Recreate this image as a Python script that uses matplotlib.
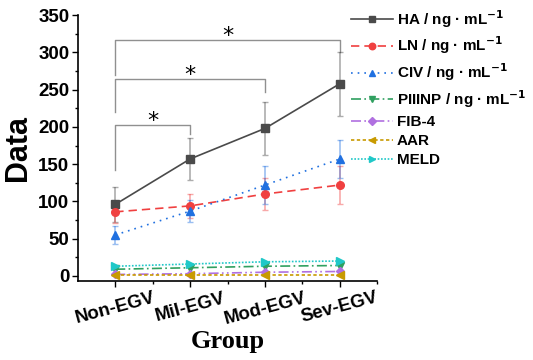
import matplotlib
matplotlib.use("Agg")
import matplotlib.pyplot as plt
import numpy as np

groups = ["Non-EGV", "Mil-EGV", "Mod-EGV", "Sev-EGV"]

ha = [96, 157, 198, 258]
ha_err = [24, 28, 36, 43]
ln = [86, 94, 110, 122]
ln_err = [15, 16, 22, 26]
civ = [55, 87, 122, 157]
civ_err = [12, 15, 25, 25]
piiinp = [9, 11, 13, 14]
fib4 = [2, 3, 5, 6]
aar = [1, 1, 1, 1]
meld = [13, 16, 19, 20]

series_names = ["HA / ng · mL$^{-1}$", "LN / ng · mL$^{-1}$", "CIV / ng · mL$^{-1}$",
                "PIIINP / ng · mL$^{-1}$", "FIB-4", "AAR", "MELD"]

# significance brackets: (start group, end group, top, left leg bottom, right leg bottom)
brackets = [(1, 2, 202, 142, 190), (1, 3, 264, 220, 247), (1, 4, 316, 270, 300)]

plt.rcParams['font.family'] = ['Liberation Sans', 'DejaVu Sans']
plt.rcParams['mathtext.default'] = 'bf'

fig = plt.figure(figsize=(5.33, 3.6), dpi=100)
ax = fig.add_axes([0.146, 0.219, 0.562, 0.739])

x = np.arange(1, len(groups) + 1)

styles = [
    (ha, ha_err, "#4a4a4a", "-", "s"),
    (ln, ln_err, "#f04040", (0, (5, 3)), "o"),
    (civ, civ_err, "#2070e0", (0, (1, 3)), "^"),
    (piiinp, None, "#30a060", (0, (6, 2, 1, 2)), "v"),
    (fib4, None, "#b070e0", (0, (6, 2, 1, 2, 1, 2)), "D"),
    (aar, None, "#c89a00", (0, (2, 1.5)), "<"),
    (meld, None, "#20c8c8", (0, (1, 1)), ">"),
]

for (vals, err, col, ls, mk), name in zip(styles, series_names):
    if err is not None:
        ax.errorbar(x, vals, yerr=err, fmt="none", ecolor=col, alpha=0.45,
                    elinewidth=1.2, capsize=2.5, capthick=1.0, zorder=2)
    ms = 4.5 if mk == "D" else 5.5
    ax.plot(x, vals, color=col, linestyle=ls, marker=mk, markersize=ms,
            linewidth=1.2, label=name, zorder=3)

for g1, g2, top, b1, b2 in brackets:
    ax.plot([g1, g1, g2, g2], [b1, top, top, b2], color="#909090", lw=1.0, zorder=1)
    ax.text((g1 + g2) / 2, top + 6, "*", ha="center", va="center",
            fontsize=16, color="black", family="DejaVu Sans")

ax.set_xlim(0.5, 4.5)
ax.set_ylim(-7, 350)
ax.set_xticks(x)
ax.set_xticks([1.5, 2.5, 3.5, 4.5], minor=True)
ax.set_xticklabels(groups, rotation=15, fontsize=13.5, fontweight="bold")
ax.set_yticks(range(0, 351, 50))
ax.set_yticks(range(25, 350, 50), minor=True)
ax.tick_params(axis="y", labelsize=13.5)
for lab in ax.get_yticklabels():
    lab.set_fontweight("bold")
ax.tick_params(which="major", direction="out", length=4, width=1, pad=2)
ax.tick_params(which="minor", direction="out", length=2.5, width=1)
ax.spines["top"].set_visible(False)
ax.spines["right"].set_visible(False)
ax.spines["left"].set_linewidth(1.2)
ax.spines["bottom"].set_linewidth(1.2)

ax.set_ylabel("Data", fontsize=22, fontweight="bold", labelpad=4)
ax.set_xlabel("Group", fontsize=19, fontweight="bold", family="Liberation Serif", labelpad=2)

fig.legend(loc="upper left", bbox_to_anchor=(0.648, 0.995), frameon=False,
           prop={"size": 11, "weight": "bold"}, handlelength=2.7, handletextpad=0.25,
           labelspacing=0.33, borderaxespad=0, markerscale=0.85)

fig.savefig("out.png", dpi=100)
